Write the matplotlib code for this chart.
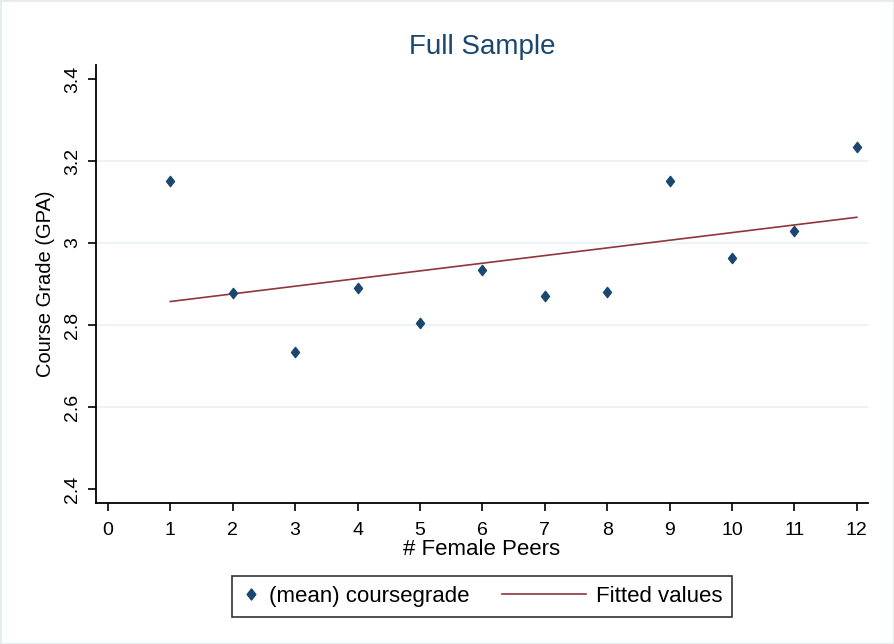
import numpy as np
import matplotlib.pyplot as plt
from matplotlib.patches import Rectangle
from matplotlib.path import Path
from matplotlib.legend_handler import HandlerLine2D
from matplotlib.lines import Line2D

plt.rcParams['font.family'] = ['Liberation Sans', 'DejaVu Sans']

# mean course grade by number of female peers
peers = np.array([1, 2, 3, 4, 5, 6, 7, 8, 9, 10, 11, 12])
mean_grade = np.array([3.151, 2.878, 2.734, 2.890, 2.805, 2.934,
                       2.871, 2.880, 3.151, 2.963, 3.029, 3.234])
x_ticks = list(range(0, 13))
y_ticks = [2.4, 2.6, 2.8, 3.0, 3.2, 3.4]
y_tick_labels = ['2.4', '2.6', '2.8', '3', '3.2', '3.4']

navy = '#1a476f'
maroon = '#90353b'

# slightly tall diamond marker
diamond = Path([(0, 1), (0.78, 0), (0, -1), (-0.78, 0), (0, 1)],
               [Path.MOVETO, Path.LINETO, Path.LINETO, Path.LINETO, Path.CLOSEPOLY])


class LongLineHandler(HandlerLine2D):
    # legend line reaching back into the column gap
    def get_xdata(self, legend, xdescent, ydescent, width, height, fontsize):
        x0 = -xdescent - 2.95 * fontsize
        return [x0, -xdescent + width], [-xdescent + 0.5 * width]


# linear fit
slope, intercept = np.polyfit(peers, mean_grade, 1)
fitted = intercept + slope * peers

fig = plt.figure(figsize=(8.94, 6.44), dpi=100)
fig.patches.append(Rectangle((0, 0), 1, 1, transform=fig.transFigure,
                             fill=False, edgecolor='#e4ecee', linewidth=2))
ax = fig.add_axes([0.1074, 0.219, 0.8636, 0.680])

for v in y_ticks[1:-1]:
    ax.axhline(v, color='#eaf2f3', linewidth=1.3, zorder=0)

ax.scatter(peers, mean_grade, marker=diamond, s=55, color=navy, zorder=3)
ln, = ax.plot(peers, fitted, color=maroon, linewidth=1.2, zorder=2,
              label='Fitted values')

ax.set_xlim(-0.19, 12.18)
ax.set_ylim(2.366, 3.434)
ax.set_xticks(x_ticks)
ax.set_yticks(y_ticks)
ax.set_yticklabels(y_tick_labels, rotation=90, va='center')
ax.tick_params(axis='both', direction='out', length=6, width=1.2,
               labelsize=14, colors='black')
ax.tick_params(axis='x', pad=8)
ax.tick_params(axis='y', pad=5)

for side in ['top', 'right']:
    ax.spines[side].set_visible(False)
for side in ['left', 'bottom']:
    ax.spines[side].set_linewidth(1.3)

ax.set_title('Full Sample', fontsize=20, color=navy, pad=8)
ax.set_xlabel('# Female Peers', fontsize=16, labelpad=0)
ax.set_ylabel('Course Grade (GPA)', fontsize=14.5, labelpad=6)

pt_handle = Line2D([], [], linestyle='none', marker=diamond, markersize=8,
                   color=navy, label='(mean) coursegrade')
leg = fig.legend(handles=[pt_handle, ln], loc='center', ncol=2,
                 bbox_to_anchor=(0.539, 0.0735), fontsize=16,
                 frameon=True, fancybox=False, edgecolor='black',
                 handlelength=0.8, handletextpad=0.45, columnspacing=4.4,
                 borderpad=0.45, borderaxespad=0,
                 handler_map={ln: LongLineHandler()})
leg.get_frame().set_linewidth(1.2)

fig.savefig('out.png', dpi=100)
